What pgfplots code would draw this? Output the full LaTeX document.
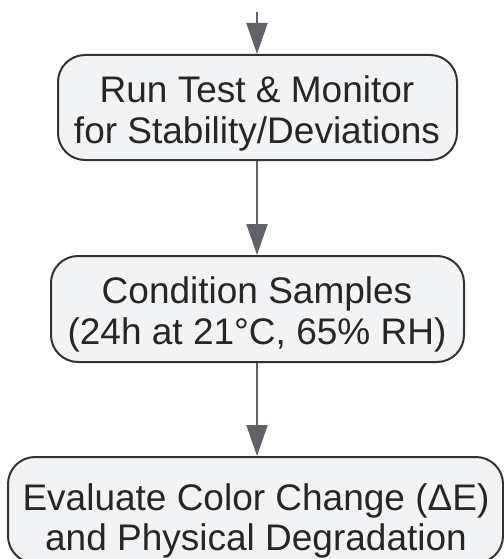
\documentclass[border=0pt]{standalone}
\usepackage{pgfplots}
\pgfplotsset{compat=1.18}
\usepackage{fontspec}
\setmainfont{Liberation Sans}
\usetikzlibrary{arrows.meta}
\definecolor{boxfill}{HTML}{F2F3F5}
\definecolor{boxline}{HTML}{333333}
\definecolor{arrowc}{HTML}{5F6368}
\definecolor{txt}{HTML}{262626}
\begin{document}
\begin{tikzpicture}
\begin{axis}[
  width=504bp, height=559bp, scale only axis,
  xmin=0, xmax=504, ymin=0, ymax=559, y dir=reverse,
  hide axis, clip=false,
]
% arrows
\draw[arrowc, line width=2bp, -{Triangle[width=21bp,length=31bp]}] (axis cs:257,12) -- (axis cs:257,54);
\draw[arrowc, line width=2bp, -{Triangle[width=21bp,length=31bp]}] (axis cs:257,161) -- (axis cs:257,255);
\draw[arrowc, line width=2bp, -{Triangle[width=21bp,length=31bp]}] (axis cs:257,363) -- (axis cs:257,456);
% boxes
\draw[boxline, fill=boxfill, line width=2bp, rounded corners=27bp] (axis cs:58,55) rectangle (axis cs:457,160);
\draw[boxline, fill=boxfill, line width=2bp, rounded corners=27bp] (axis cs:51,256) rectangle (axis cs:464,362);
\draw[boxline, fill=boxfill, line width=2bp, rounded corners=27bp] (axis cs:8,457) rectangle (axis cs:503,563);
% text
\tikzset{lbl/.style={anchor=base, inner sep=0pt, text=txt, font=\fontsize{37bp}{42bp}\selectfont}}
\node[lbl] at (axis cs:257,102) {Run Test \& Monitor};
\node[lbl] at (axis cs:257,143) {for Stability/Deviations};
\node[lbl] at (axis cs:257,303) {Condition Samples};
\node[lbl] at (axis cs:257,344) {(24h at 21°C, 65\% RH)};
\node[lbl] at (axis cs:256,510) {Evaluate Color Change (ΔE)};
\node[lbl] at (axis cs:256,550) {and Physical Degradation};
\end{axis}
\pgfresetboundingbox
\useasboundingbox (current axis.south west) rectangle (current axis.north east);
\end{tikzpicture}
\end{document}
